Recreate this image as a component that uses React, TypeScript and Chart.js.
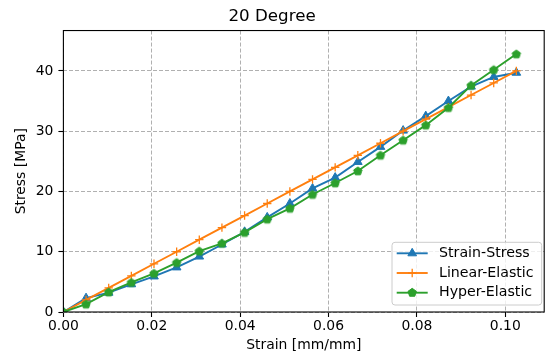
import React, { useEffect, useRef } from 'react';
import { Chart, registerables } from 'chart.js';

Chart.register(...registerables);

const chartTitle = '20 Degree';
const xLabel = 'Strain [mm/mm]';
const yLabel = 'Stress [MPa]';
const seriesNames = ['Strain-Stress', 'Linear-Elastic', 'Hyper-Elastic'];
const seriesColors = ['#1f77b4', '#ff7f0e', '#2ca02c'];
const seriesMarkers = ['triangle', 'cross', 'pentagon'];

const strain = [
  0, 0.005125, 0.01025, 0.015375, 0.0205, 0.025625, 0.03075, 0.035875, 0.041, 0.046125, 0.05125,
  0.056375, 0.0615, 0.066625, 0.07175, 0.076875, 0.082, 0.087125, 0.09225, 0.097375, 0.1025,
];
const strainStress = [
  0, 2.3, 3.2, 4.6, 5.9, 7.4, 9.2, 11.2, 13.3, 15.7, 18.0,
  20.5, 22.3, 24.9, 27.4, 30.1, 32.5, 35.0, 37.4, 39.0, 39.7,
];
const linearElastic = [
  0, 2, 4, 6, 8, 10, 12, 14, 16, 18, 20,
  22, 24, 26, 28, 30, 32, 34, 36, 38, 40,
];
const hyperElastic = [
  0, 1.3, 3.3, 4.9, 6.4, 8.2, 10.1, 11.4, 13.2, 15.4, 17.2,
  19.5, 21.4, 23.4, 26.0, 28.5, 31.0, 33.9, 37.6, 40.2, 42.8,
];
const xTicks = [0, 0.02, 0.04, 0.06, 0.08, 0.1];
const yTicks = [0, 10, 20, 30, 40];
const xMax = 0.1088;
const yMax = 46.7;

const FONT = 'DejaVu Sans';

function pentagonPath(ctx: CanvasRenderingContext2D, cx: number, cy: number, r: number) {
  ctx.beginPath();
  for (let k = 0; k < 5; k++) {
    const ang = -Math.PI / 2 + (k * 2 * Math.PI) / 5;
    const px = cx + r * Math.cos(ang);
    const py = cy + r * Math.sin(ang);
    if (k === 0) ctx.moveTo(px, py);
    else ctx.lineTo(px, py);
  }
  ctx.closePath();
}

function drawMarker(ctx: CanvasRenderingContext2D, kind: string, x: number, y: number, color: string) {
  ctx.save();
  ctx.fillStyle = color;
  ctx.strokeStyle = color;
  ctx.setLineDash([]);
  if (kind === 'triangle') {
    const r = 5;
    ctx.lineWidth = 1;
    ctx.beginPath();
    ctx.moveTo(x, y - r);
    ctx.lineTo(x + r * Math.sin((2 * Math.PI) / 3), y - r * Math.cos((2 * Math.PI) / 3));
    ctx.lineTo(x + r * Math.sin((4 * Math.PI) / 3), y - r * Math.cos((4 * Math.PI) / 3));
    ctx.closePath();
    ctx.fill();
    ctx.stroke();
  } else if (kind === 'cross') {
    const r = 4.2;
    ctx.lineWidth = 1.3;
    ctx.beginPath();
    ctx.moveTo(x - r, y);
    ctx.lineTo(x + r, y);
    ctx.moveTo(x, y - r);
    ctx.lineTo(x, y + r);
    ctx.stroke();
  } else {
    ctx.lineWidth = 1;
    pentagonPath(ctx, x, y, 4.4);
    ctx.fill();
    ctx.stroke();
  }
  ctx.restore();
}

const framePlugin = {
  id: 'mplFrame',
  afterDatasetsDraw(chart: any) {
    const { ctx, chartArea: a } = chart;
    ctx.save();
    ctx.strokeStyle = '#000';
    ctx.lineWidth = 1.1;
    ctx.setLineDash([]);
    ctx.strokeRect(a.left, a.top, a.right - a.left, a.bottom - a.top);
    ctx.restore();
  },
};

const legendPlugin = {
  id: 'mplLegend',
  afterDraw(chart: any) {
    const { ctx, chartArea: a } = chart;
    const w = 149.7;
    const h = 62.7;
    const x = a.right - 2.5 - w;
    const y = a.bottom - 7 - h;
    ctx.save();
    ctx.setLineDash([]);
    ctx.beginPath();
    if ((ctx as any).roundRect) (ctx as any).roundRect(x, y, w, h, 3);
    else ctx.rect(x, y, w, h);
    ctx.fillStyle = 'rgba(255,255,255,0.8)';
    ctx.fill();
    ctx.strokeStyle = '#cccccc';
    ctx.lineWidth = 1;
    ctx.stroke();
    seriesNames.forEach((name, i) => {
      const cy = y + 11 + i * 19.7;
      const color = seriesColors[i];
      ctx.strokeStyle = color;
      ctx.lineWidth = 1.9;
      ctx.beginPath();
      ctx.moveTo(x + 4.7, cy);
      ctx.lineTo(x + 35.7, cy);
      ctx.stroke();
      drawMarker(ctx, seriesMarkers[i], x + 20.2, cy, color);
      ctx.fillStyle = '#000';
      ctx.font = `14.2px "${FONT}"`;
      ctx.textAlign = 'left';
      ctx.textBaseline = 'middle';
      ctx.fillText(name, x + 47, cy);
    });
    ctx.restore();
  },
};

export default function App() {
  const canvasRef = useRef<HTMLCanvasElement | null>(null);

  useEffect(() => {
    const canvas = canvasRef.current;
    if (!canvas) return;

    const pent = document.createElement('canvas');
    pent.width = 12;
    pent.height = 12;
    const pctx = pent.getContext('2d')!;
    pctx.fillStyle = seriesColors[2];
    pctx.strokeStyle = seriesColors[2];
    pctx.lineWidth = 1;
    pentagonPath(pctx, 6, 6.3, 4.4);
    pctx.fill();
    pctx.stroke();

    const series = [strainStress, linearElastic, hyperElastic];
    const pointStyles: any[] = ['triangle', 'cross', pent];
    const radii = [5, 4.2, 5];
    const pbw = [1, 1.3, 1];
    const orders = [3, 2, 1];

    const datasets = series.map((vals, i) => ({
      label: seriesNames[i],
      data: strain.map((s, j) => ({ x: s, y: vals[j] })),
      borderColor: seriesColors[i],
      backgroundColor: seriesColors[i],
      pointBackgroundColor: seriesColors[i],
      pointBorderColor: seriesColors[i],
      pointStyle: pointStyles[i],
      pointRadius: radii[i],
      pointBorderWidth: pbw[i],
      borderWidth: 1.9,
      tension: 0,
      fill: false,
      clip: 0,
      order: orders[i],
    }));

    const gridOpts = {
      color: '#b0b0b0',
      lineWidth: 1,
      tickColor: '#000',
      tickLength: 5,
      tickWidth: 1.1,
      tickBorderDash: [],
    };
    const borderOpts = { display: false, dash: [4, 2] };

    const chart = new Chart(canvas, {
      type: 'line',
      data: { datasets },
      plugins: [framePlugin, legendPlugin],
      options: {
        animation: false,
        responsive: false,
        devicePixelRatio: 1,
        layout: { autoPadding: false, padding: { left: 0, right: 0.8, top: 0, bottom: 0 } },
        plugins: {
          legend: { display: false },
          tooltip: { enabled: false },
          title: {
            display: true,
            text: chartTitle,
            color: '#000',
            font: { family: FONT, size: 16.7, weight: 'normal', lineHeight: 1.2 },
            padding: { top: 6.5, bottom: 4 },
          },
        },
        scales: {
          x: {
            type: 'linear',
            min: 0,
            max: xMax,
            grid: gridOpts,
            border: borderOpts,
            afterBuildTicks: (scale: any) => {
              scale.ticks = xTicks.map((v) => ({ value: v }));
            },
            afterFit: (scale: any) => {
              scale.height = 42;
              scale.paddingLeft = 0;
              scale.paddingRight = 0;
            },
            ticks: {
              color: '#000',
              padding: 1.5,
              maxRotation: 0,
              autoSkip: false,
              font: { family: FONT, size: 13.9, lineHeight: 1.2 },
              callback: (v: any) => Number(v).toFixed(2),
            },
            title: {
              display: true,
              text: xLabel,
              color: '#000',
              font: { family: FONT, size: 13.9, lineHeight: 1.2 },
              padding: { top: 0, bottom: 0.7 },
            },
          },
          y: {
            type: 'linear',
            min: 0,
            max: yMax,
            grid: gridOpts,
            border: borderOpts,
            afterBuildTicks: (scale: any) => {
              scale.ticks = yTicks.map((v) => ({ value: v }));
            },
            afterFit: (scale: any) => {
              scale.width = 63.4;
              scale.paddingTop = 0;
              scale.paddingBottom = 0;
            },
            ticks: {
              color: '#000',
              padding: 5,
              autoSkip: false,
              font: { family: FONT, size: 13.9, lineHeight: 1.2 },
              callback: (v: any) => String(v),
            },
            title: {
              display: true,
              text: yLabel,
              color: '#000',
              font: { family: FONT, size: 13.9, lineHeight: 1.2 },
              padding: { top: 13.4, bottom: 0 },
            },
          },
        },
      } as any,
    });

    return () => {
      chart.destroy();
    };
  }, []);

  return (
    <div style={{ position: 'fixed', left: 0, top: 0, width: 545, height: 354, background: '#fff' }}>
      <canvas ref={canvasRef} width={545} height={354} style={{ display: 'block', width: 545, height: 354 }} />
    </div>
  );
}
